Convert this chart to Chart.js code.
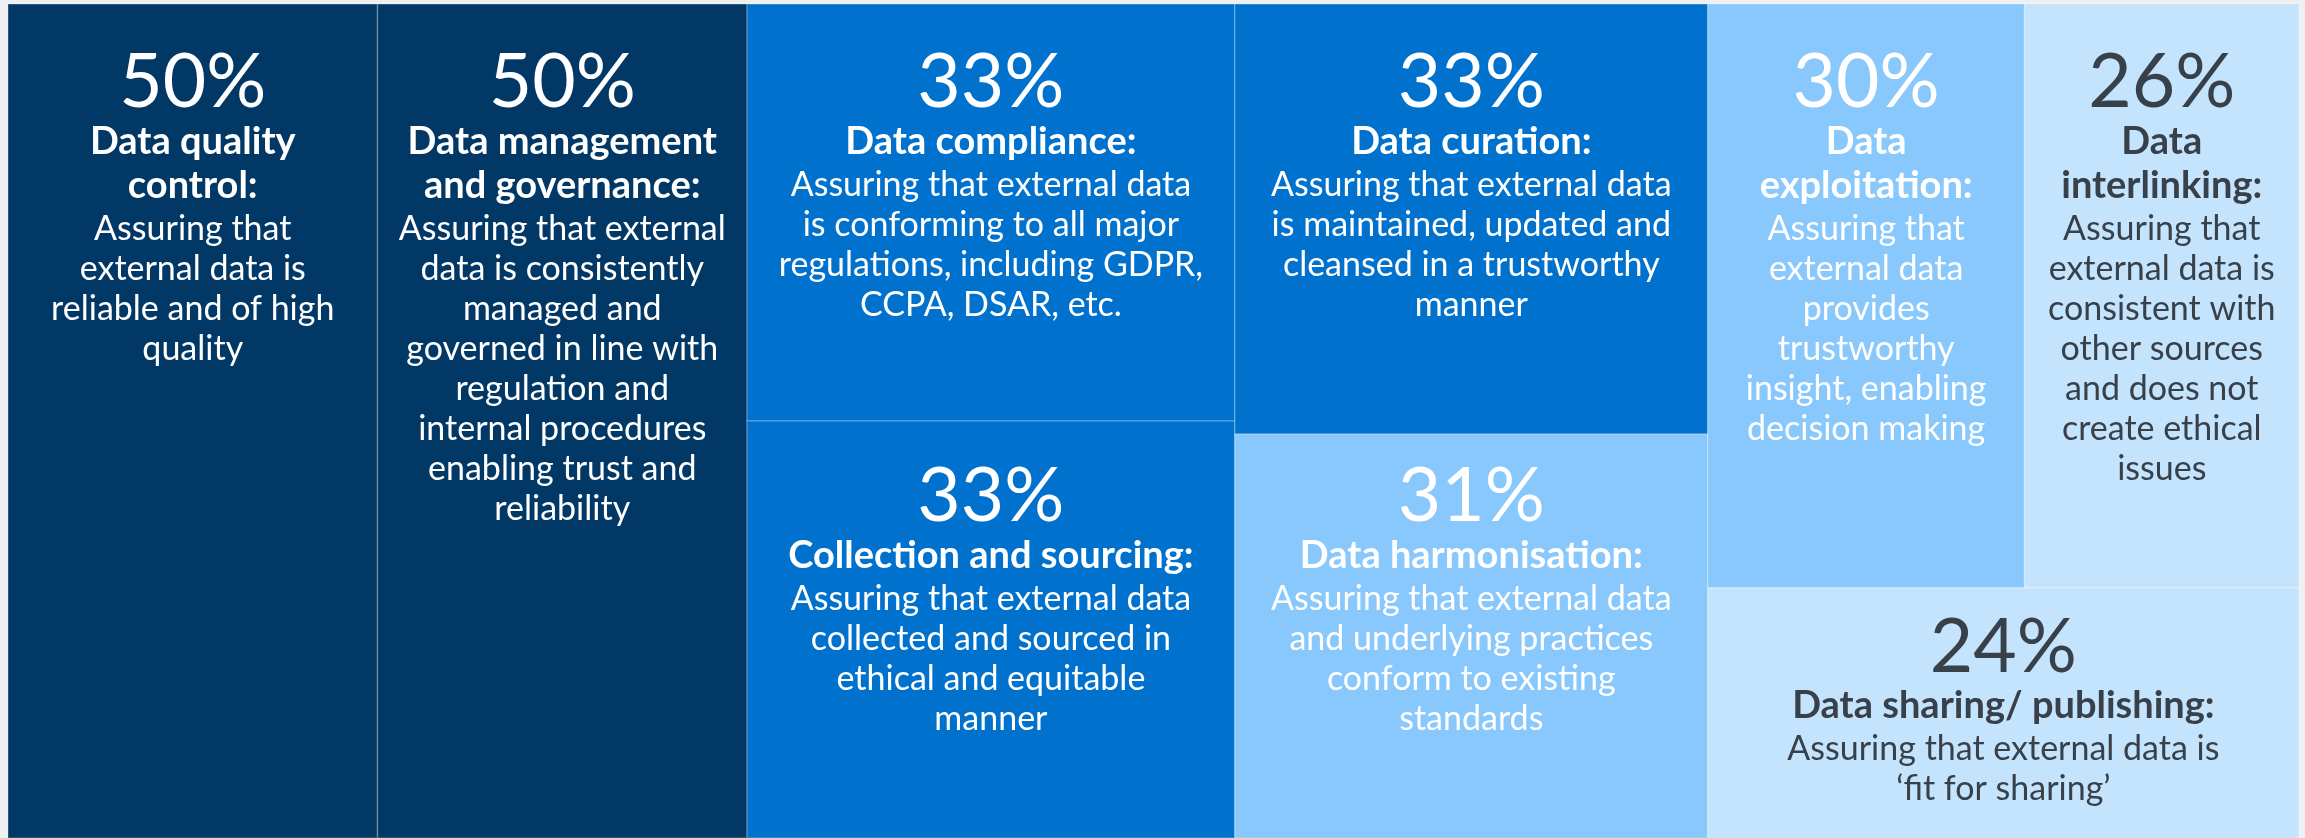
<!DOCTYPE html>
<html>
<head>
<meta charset="utf-8">
<script src="https://cdn.jsdelivr.net/npm/chart.js@4.4.0/dist/chart.umd.min.js"></script>
<style>
html, body { margin: 0; padding: 0; background: #eef0f2; }
#wrap { width: 2305px; height: 838px; }
</style>
</head>
<body>
<div id="wrap"><canvas id="myChart"></canvas></div>
<script>
// share of respondents per data-assurance area
var values = [50, 50, 33, 33, 33, 31, 30, 26, 24];

var titles = [
    ['Data quality', 'control:'],
    ['Data management', 'and governance:'],
    ['Data compliance:'],
    ['Collection and sourcing:'],
    ['Data curation:'],
    ['Data harmonisation:'],
    ['Data', 'exploitation:'],
    ['Data', 'interlinking:'],
    ['Data sharing/ publishing:']
];

var descriptions = [
    ['Assuring that', 'external data is', 'reliable and of high', 'quality'],
    ['Assuring that external', 'data is consistently', 'managed and', 'governed in line with', 'regulation and', 'internal procedures', 'enabling trust and', 'reliability'],
    ['Assuring that external data', 'is conforming to all major', 'regulations, including GDPR,', 'CCPA, DSAR, etc.'],
    ['Assuring that external data', 'collected and sourced in', 'ethical and equitable', 'manner'],
    ['Assuring that external data', 'is maintained, updated and', 'cleansed in a trustworthy', 'manner'],
    ['Assuring that external data', 'and underlying practices', 'conform to existing', 'standards'],
    ['Assuring that', 'external data', 'provides', 'trustworthy', 'insight, enabling', 'decision making'],
    ['Assuring that', 'external data is', 'consistent with', 'other sources', 'and does not', 'create ethical', 'issues'],
    ['Assuring that external data is', '\u2018fit for sharing\u2019']
];

// columns -> rows -> cells (indexes into values)
var columns = [[[0]], [[1]], [[2], [3]], [[4], [5]], [[6, 7], [8]]];

var fillColors = ['#023865', '#023865', '#0072ce', '#0072ce', '#0072ce', '#89c8fc', '#89c8fc', '#c4e4fd', '#c4e4fd'];
var textColors = ['#fff', '#fff', '#fff', '#fff', '#fff', '#fff', '#fff', '#38414a', '#38414a'];
var baselineOffsets = [103, 103, 103, 100, 103, 87, 103, 103, 84];

function sum(list) {
    return list.reduce(function (a, i) { return a + values[i]; }, 0);
}

// slice-and-dice layout in 0..1 units
function layout() {
    var total = values.reduce(function (a, b) { return a + b; }, 0);
    var rects = [];
    var x = 0;
    columns.forEach(function (col) {
        var colCells = [].concat.apply([], col);
        var colSum = sum(colCells);
        var w = colSum / total;
        var y = 0;
        col.forEach(function (row) {
            var rowSum = sum(row);
            var h = rowSum / colSum;
            var cx = x;
            row.forEach(function (i) {
                var cw = w * values[i] / rowSum;
                rects[i] = { x0: cx, x1: cx + cw, y0: y, y1: y + h };
                cx += cw;
            });
            y += h;
        });
        x += w;
    });
    return rects;
}

var rects = layout();

var treemapPlugin = {
    id: 'treemap',
    beforeDraw: function (chart) {
        var ctx = chart.ctx;
        ctx.save();
        ctx.fillStyle = '#eef0f2';
        ctx.fillRect(0, 0, chart.width, chart.height);
        ctx.restore();
    },
    afterDatasetsDraw: function (chart) {
        var ctx = chart.ctx;
        var xs = chart.scales.x, ys = chart.scales.y;
        ctx.save();
        rects.forEach(function (r, i) {
            var left = xs.getPixelForValue(r.x0), right = xs.getPixelForValue(r.x1);
            var top = ys.getPixelForValue(r.y0), bottom = ys.getPixelForValue(r.y1);
            ctx.fillStyle = fillColors[i];
            ctx.fillRect(left, top, right - left, bottom - top);
            ctx.strokeStyle = 'rgba(255,255,255,0.22)';
            ctx.lineWidth = 1.5;
            ctx.strokeRect(left, top, right - left, bottom - top);
        });
        rects.forEach(function (r, i) {
            var left = xs.getPixelForValue(r.x0), right = xs.getPixelForValue(r.x1);
            var top = ys.getPixelForValue(r.y0);
            var cx = (left + right) / 2;
            var y = top + baselineOffsets[i];
            ctx.fillStyle = textColors[i];
            ctx.textAlign = 'center';
            ctx.textBaseline = 'alphabetic';
            ctx.font = '75px Lato';
            ctx.fillText(values[i] + '%', cx, y);
            ctx.font = 'bold 38px Lato';
            titles[i].forEach(function (line, k) {
                y += k === 0 ? 46.5 : 44.5;
                ctx.fillText(line, cx, y);
            });
            ctx.font = '34px Lato';
            descriptions[i].forEach(function (line, k) {
                y += k === 0 ? 42 : 40;
                ctx.fillText(line, cx, y);
            });
        });
        ctx.restore();
    }
};

function draw() {
    var ctx = document.getElementById('myChart').getContext('2d');
    var myChart = new Chart(ctx, {
        type: 'scatter',
        data: { datasets: [{ data: [] }] },
        options: {
            responsive: true,
            maintainAspectRatio: false,
            animation: false,
            layout: { padding: { left: 8, top: 4, right: 6, bottom: 0 } },
            plugins: { legend: { display: false }, tooltip: { enabled: false } },
            scales: {
                x: { type: 'linear', min: 0, max: 1, display: false },
                y: { type: 'linear', min: 0, max: 1, reverse: true, display: false }
            }
        },
        plugins: [treemapPlugin]
    });
}

Promise.all([
    document.fonts.load('75px Lato'),
    document.fonts.load('bold 38px Lato'),
    document.fonts.load('34px Lato')
]).then(draw, draw);
</script>
</body>
</html>
